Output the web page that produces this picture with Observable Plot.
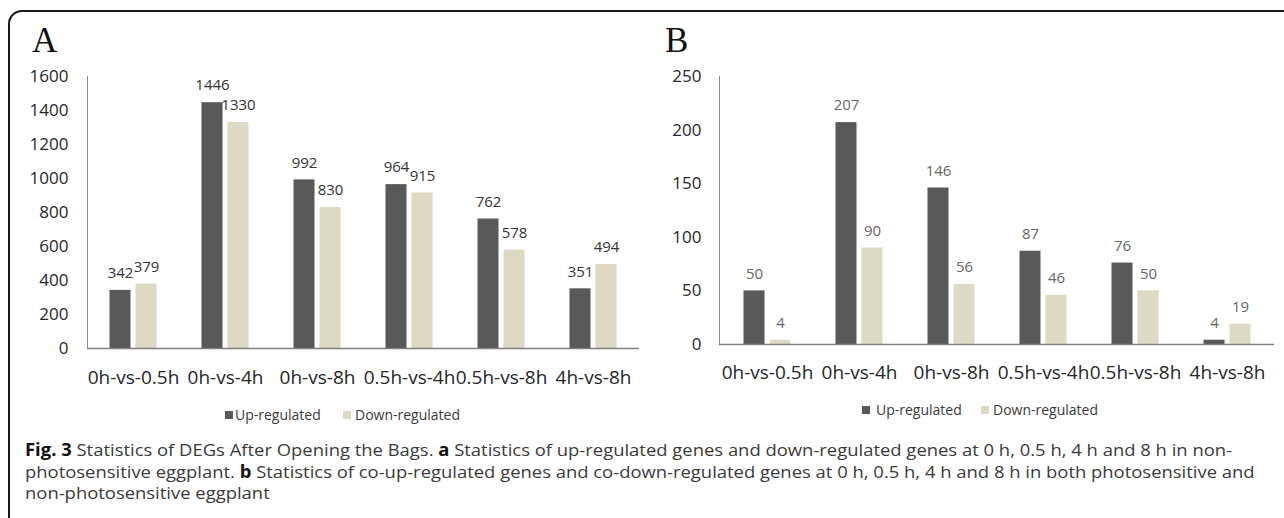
<!DOCTYPE html>
<html><head><meta charset="utf-8">
<script src="https://cdn.jsdelivr.net/npm/d3@7"></script>
<script src="https://cdn.jsdelivr.net/npm/@observablehq/plot@0.6"></script>
<style>
body{margin:0;background:#fff;}
#wrap{position:relative;width:1284px;height:518px;overflow:hidden;background:#fff;font-family:"Open Sans",sans-serif;}
#border{position:absolute;left:8px;top:10px;width:1400px;height:700px;border:2.5px solid #1a1a1a;border-radius:14px;box-sizing:border-box;}
.panel{position:absolute;top:0;}
.letter{position:absolute;font-family:"Liberation Serif",serif;font-size:35px;line-height:35px;color:#111;}
.lg{position:absolute;font-size:14px;line-height:16px;color:#3a3a3a;white-space:nowrap;}
.sw{position:absolute;width:8px;height:8px;}
.cap{position:absolute;left:25px;font-size:17px;line-height:20px;white-space:nowrap;color:#3a3a3a;transform-origin:0 50%;}
.cap b{color:#111;}
</style></head>
<body><div id="wrap"><div id="border"></div></div>
<script>
const categories = ["0h-vs-0.5h","0h-vs-4h","0h-vs-8h","0.5h-vs-4h","0.5h-vs-8h","4h-vs-8h"];
const series = ["Up-regulated","Down-regulated"];
const upA = [342,1446,992,964,762,351];
const downA = [379,1330,830,915,578,494];
const upB = [50,207,146,87,76,4];
const downB = [4,90,56,46,50,19];
const ticksA = [0,200,400,600,800,1000,1200,1400,1600];
const ticksB = [0,50,100,150,200,250];
const colors = ["#595959","#ddd9c3"];
const captionLines = [
  '<b>Fig. 3</b> Statistics of DEGs After Opening the Bags. <b>a</b> Statistics of up-regulated genes and down-regulated genes at 0 h, 0.5 h, 4 h and 8 h in non-',
  'photosensitive eggplant. <b>b</b> Statistics of co-up-regulated genes and co-down-regulated genes at 0 h, 0.5 h, 4 h and 8 h in both photosensitive and',
  'non-photosensitive eggplant'
];

const wrap = document.getElementById("wrap");

function rowsOf(up, down) {
  return [
    ...categories.map((c, i) => ({cat: c, series: series[0], value: up[i]})),
    ...categories.map((c, i) => ({cat: c, series: series[1], value: down[i]}))
  ];
}

function panel({up, down, ticks, ymax, left, width, marginLeft, marginRight, zeroY, labelColor, yPad, xPad}) {
  const rows = rowsOf(up, down);
  const U = rows.filter(d => d.series === series[0]);
  const D = rows.filter(d => d.series === series[1]);
  const height = 430;
  const chart = Plot.plot({
    width, height,
    marginLeft, marginRight, marginTop: 76, marginBottom: height - zeroY,
    x: {domain: categories, padding: 0, label: null},
    y: {domain: [0, ymax], label: null},
    color: {domain: series, range: colors},
    style: {fontFamily: "'Open Sans', sans-serif", background: "transparent", color: "#262626", overflow: "visible"},
    marks: [
      Plot.barY(U, {x: "cat", y: "value", fill: "series", insetLeft: 22.5, insetRight: 48.5}),
      Plot.barY(D, {x: "cat", y: "value", fill: "series", insetLeft: 48.5, insetRight: 22.5}),
      Plot.text(U, {x: "cat", y: "value", text: d => String(d.value), dx: -13, dy: -17, fontSize: 15, fill: labelColor}),
      Plot.text(D, {x: "cat", y: "value", text: d => String(d.value), dx: 13, dy: -17, fontSize: 15, fill: labelColor}),
      Plot.axisY({ticks, tickSize: 0, tickPadding: yPad, fontSize: 17, label: null, tickFormat: d => String(d)}),
      Plot.axisX({tickSize: 0, tickPadding: xPad, fontSize: 19, label: null}),
      Plot.frame({anchor: "left", stroke: "#8c8c8c", strokeWidth: 1}),
      Plot.ruleY([0], {stroke: "#808080", strokeWidth: 1.6})
    ]
  });
  chart.classList.add("panel");
  chart.style.left = left + "px";
  wrap.appendChild(chart);
}

panel({up: upA, down: downA, ticks: ticksA, ymax: 1600, left: 0, width: 640, marginLeft: 87, marginRight: 1, zeroY: 348, labelColor: "#333", yPad: 19, xPad: 22});
panel({up: upB, down: downB, ticks: ticksB, ymax: 250, left: 640, width: 644, marginLeft: 79, marginRight: 10, zeroY: 344, labelColor: "#666", yPad: 18, xPad: 21});

function el(cls, html, styles) {
  const e = document.createElement("div");
  e.className = cls;
  e.innerHTML = html;
  Object.assign(e.style, styles);
  wrap.appendChild(e);
  return e;
}
el("letter", "A", {left: "32px", top: "23px"});
el("letter", "B", {left: "665px", top: "23px"});

function legend(items) {
  items.forEach(([sx, tx, cy], i) => {
    el("sw", "", {left: sx + "px", top: (cy - 4) + "px", background: colors[i]});
    el("lg", series[i], {left: tx + "px", top: (cy - 8) + "px"});
  });
}
legend([[225, 235, 415], [343, 355, 415]]);
legend([[862, 876, 410], [981, 993, 410]]);

const tops = [450, 471.5, 493];
let scale = 1;
captionLines.forEach((h, i) => {
  const e = el("cap", h, {top: (tops[i] - 10) + "px"});
  if (i === 0) scale = 1207 / e.getBoundingClientRect().width;
});
document.querySelectorAll(".cap").forEach(e => e.style.transform = `scaleX(${scale})`);
</script>
</body></html>
